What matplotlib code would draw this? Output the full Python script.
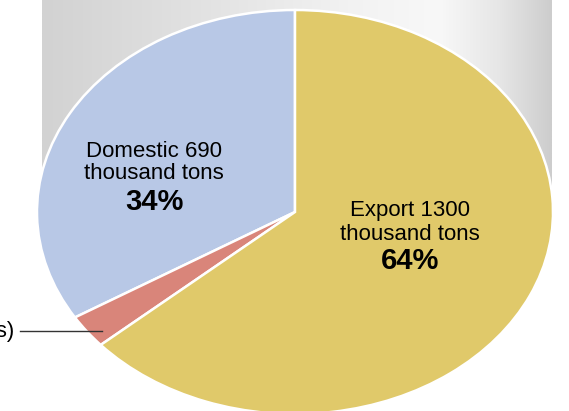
import numpy as np
import matplotlib.pyplot as plt
from matplotlib.colors import LinearSegmentedColormap

# export split, thousand tons
categorias = ["Domestic", "Other", "Export"]
toneladas = [690, 55, 1300]
porcentajes = [34, 3, 64]
colores = ["#b8c8e6", "#d9857a", "#e0c96a"]

W, H = 569, 411
cx, cy = 295, 212      # centro de la torta (px)
rx, ry = 258, 202      # radios de la elipse (px)


def px(x, y):
    # pixeles de la imagen -> coordenadas de la torta
    return (x - cx) / rx, (cy - y) / ry


fig = plt.figure(figsize=(W / 100, H / 100), dpi=100)
ax = fig.add_axes([0, 0, 1, 1])

# fondo gris con degradado horizontal
grises = LinearSegmentedColormap.from_list(
    "fondo",
    [(0.0, "#d2d2d2"), (0.35, "#e4e4e4"), (0.6, "#f2f2f2"),
     (0.78, "#f8f8f8"), (0.9, "#e6e6e6"), (1.0, "#cdcdcd")])
x0, y0 = px(42, 0)
x1, y1 = px(552, 212)
grad = np.linspace(0, 1, 256).reshape(1, -1)
ax.imshow(grad, extent=[x0, x1, y1, y0], aspect="auto", cmap=grises,
          zorder=0, interpolation="bilinear")

ax.pie(toneladas, colors=colores, startangle=90, counterclock=True,
       radius=1, wedgeprops=dict(edgecolor="white", linewidth=1.8))
ax.set_aspect("auto")

# etiquetas dentro de las porciones grandes
fuente = "Liberation Sans"
textos = {
    0: (154, 157, 179, 210),
    2: (410, 216, 240, 269),
}
for i, (xc, b1, b2, b3) in textos.items():
    ax.text(*px(xc, b1), f"{categorias[i]} {toneladas[i]}", ha="center", va="baseline",
            fontsize=16, family=fuente, color="black", zorder=5)
    ax.text(*px(xc, b2), "thousand tons", ha="center", va="baseline",
            fontsize=16, family=fuente, color="black", zorder=5)
    ax.text(*px(xc, b3), f"{porcentajes[i]}%", ha="center", va="baseline",
            fontsize=21, family=fuente, weight="bold", color="black", zorder=5)

# etiqueta de la porción chica con línea guía
lx0, ly = px(20, 331)
lx1, _ = px(102, 331)
ax.plot([lx0, lx1], [ly, ly], color="#333333", linewidth=1.0, zorder=5)
ax.text(*px(14, 331), f"{categorias[1]} {toneladas[1]} (thousand tons)", ha="right",
        va="center", fontsize=16, family=fuente, color="black", zorder=5)

ax.set_xlim(-cx / rx, (W - cx) / rx)
ax.set_ylim((cy - H) / ry, cy / ry)
ax.axis("off")

fig.savefig("out.png", dpi=100)
